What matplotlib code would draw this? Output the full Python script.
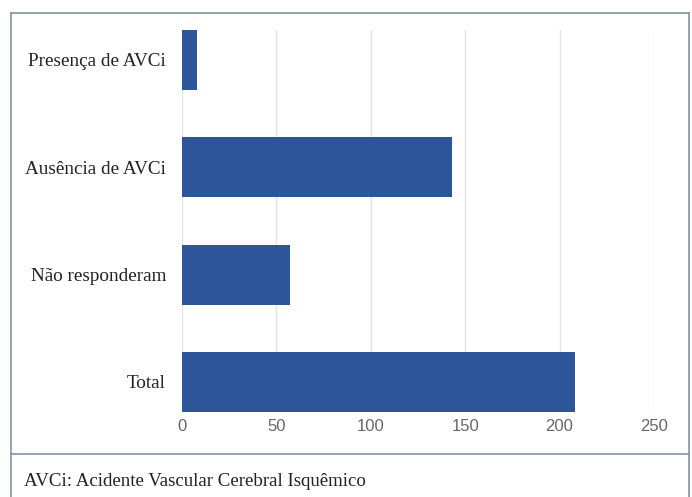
import matplotlib.pyplot as plt
from matplotlib.lines import Line2D

# respostas sobre AVCi
categorias = ['Presença de AVCi', 'Ausência de AVCi', 'Não responderam', 'Total']
valores = [8, 143, 57, 208]
ticks_x = [0, 50, 100, 150, 200, 250]
nota = 'AVCi: Acidente Vascular Cerebral Isquêmico'

fig = plt.figure(figsize=(6.92, 4.97), dpi=100)
ax = fig.add_axes([0.263, 0.171, 0.682, 0.769])

pos = list(range(len(categorias)))
ax.barh(pos, valores, height=0.56, color='#2C5699', zorder=3)
ax.set_ylim(len(categorias) - 1 + 0.28, -0.28)
ax.set_xlim(0, 250)

ax.set_xticks(ticks_x)
ax.set_xticklabels([str(t) for t in ticks_x], family='Liberation Sans',
                   fontsize=12, color='#666666')
ax.set_yticks(pos)
ax.set_yticklabels(categorias, family='Liberation Serif', fontsize=13.8,
                   color='#222222')
ax.tick_params(length=0)
ax.tick_params(axis='x', pad=5)
ax.tick_params(axis='y', pad=11.5)
ax.grid(axis='x', color='#e4e4e4', lw=1, zorder=0)
for s in ax.spines.values():
    s.set_visible(False)

# moldura e linha da legenda
W, H = 692, 497
moldura = '#8592a3'
def linha(x0, y0, x1, y1):
    fig.add_artist(Line2D([x0 / W, x1 / W], [1 - y0 / H, 1 - y1 / H],
                          color=moldura, lw=1.2, transform=fig.transFigure))

linha(11, 13, 689, 13)
linha(11, 13, 11, 497)
linha(689, 13, 689, 497)
linha(11, 454, 689, 454)

fig.text(24 / W, 1 - 481 / H, nota, family='Liberation Serif', fontsize=13.6,
         color='#222222', va='center', ha='left')

fig.savefig('out.png', dpi=100)
